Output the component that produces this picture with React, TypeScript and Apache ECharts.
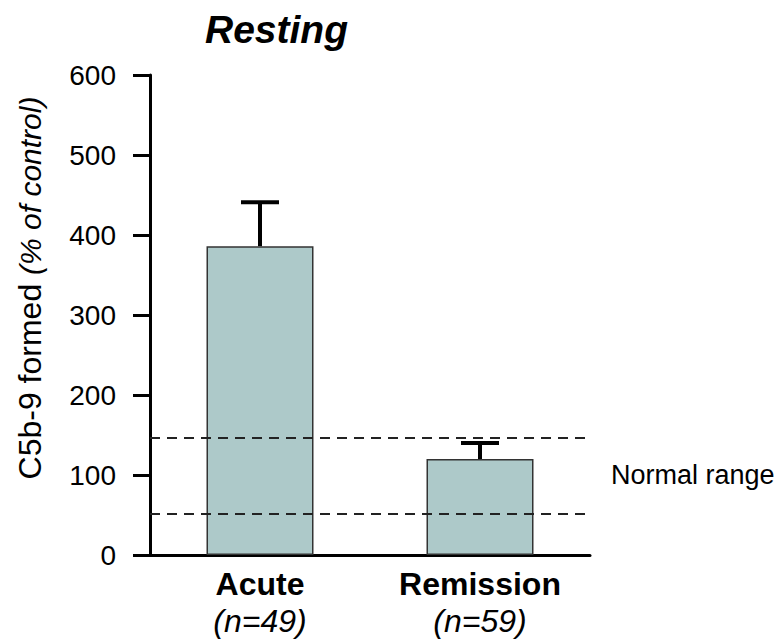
import React, { useEffect, useRef } from "react";
import * as echarts from "echarts";

const categories = ["Acute", "Remission"];
const sampleSizes = ["(n=49)", "(n=59)"];
const means = [386, 120];
const errors = [55, 20];
const normalRange = [52, 147];
const yTicks = { min: 0, max: 600, interval: 100 };

const FONT = "'Liberation Sans', Arial, sans-serif";

export default function App() {
  const ref = useRef<HTMLDivElement>(null);
  useEffect(() => {
    document.body.style.margin = "0";
    if (!ref.current) return;
    const chart = echarts.init(ref.current, null, { renderer: "svg" });
    const errData = means.map((m, i) => [i, m, m + errors[i]]);
    chart.setOption({
      animation: false,
      textStyle: { fontFamily: FONT },
      title: {
        text: "Resting",
        left: 200,
        top: 5,
        textStyle: { fontFamily: FONT, fontSize: 39, fontWeight: "bold", fontStyle: "italic", color: "#000" },
      },
      grid: { left: 150, top: 75, width: 440, height: 480 },
      xAxis: {
        type: "category",
        data: categories,
        axisLine: { lineStyle: { color: "#000", width: 3 } },
        axisTick: { show: false },
        axisLabel: {
          margin: 10,
          interval: 0,
          formatter: (v: string, i: number) => `{b|${v}}\n{i|${sampleSizes[i]}}`,
          rich: {
            b: { fontFamily: FONT, fontSize: 32, fontWeight: "bold", color: "#000", lineHeight: 37 },
            i: { fontFamily: FONT, fontSize: 32, fontStyle: "italic", color: "#000", lineHeight: 37 },
          },
        },
      },
      yAxis: {
        type: "value",
        min: yTicks.min,
        max: yTicks.max,
        interval: yTicks.interval,
        splitLine: { show: false },
        axisLine: { show: true, lineStyle: { color: "#000", width: 3 } },
        axisTick: { show: true, length: 17, lineStyle: { color: "#000", width: 3 } },
        axisLabel: { margin: 34, fontFamily: FONT, fontSize: 28, color: "#000" },
      },
      graphic: [
        {
          type: "text",
          x: 30,
          y: 288,
          rotation: Math.PI / 2,
          style: {
            text: "{r|C5b-9 formed }{i|(% of control)}",
            align: "center",
            verticalAlign: "middle",
            rich: {
              r: { fontFamily: FONT, fontSize: 32, fill: "#000" },
              i: { fontFamily: FONT, fontSize: 30, fontStyle: "italic", fill: "#000" },
            },
          },
        },
      ],
      series: [
        {
          type: "bar",
          data: means,
          barWidth: 107,
          itemStyle: { color: "#adc9c9", borderColor: "#333", borderWidth: 1.5 },
          markLine: {
            silent: true,
            symbol: ["none", "none"],
            label: { show: false },
            lineStyle: { color: "#222", width: 2, type: [10, 7] },
            data: normalRange.map((v) => ({ yAxis: v })),
          },
          markArea: {
            silent: true,
            itemStyle: { color: "rgba(0,0,0,0)" },
            label: {
              show: true,
              position: "right",
              distance: 21,
              fontFamily: FONT,
              fontSize: 27,
              color: "#000",
            },
            data: [[{ yAxis: normalRange[0], name: "Normal range" }, { yAxis: normalRange[1] }]],
          },
        },
        {
          type: "custom",
          data: errData,
          z: 5,
          renderItem: (params: any, api: any) => {
            const x = api.value(0);
            const base = api.coord([x, api.value(1)]);
            const top = api.coord([x, api.value(2)]);
            const half = 19;
            return {
              type: "group",
              children: [
                {
                  type: "line",
                  shape: { x1: base[0], y1: base[1], x2: top[0], y2: top[1] },
                  style: { stroke: "#000", lineWidth: 4 },
                },
                {
                  type: "line",
                  shape: { x1: top[0] - half, y1: top[1], x2: top[0] + half, y2: top[1] },
                  style: { stroke: "#000", lineWidth: 4 },
                },
              ],
            };
          },
        },
      ],
    });
    return () => chart.dispose();
  }, []);
  return <div ref={ref} style={{ width: 780, height: 642 }} />;
}
